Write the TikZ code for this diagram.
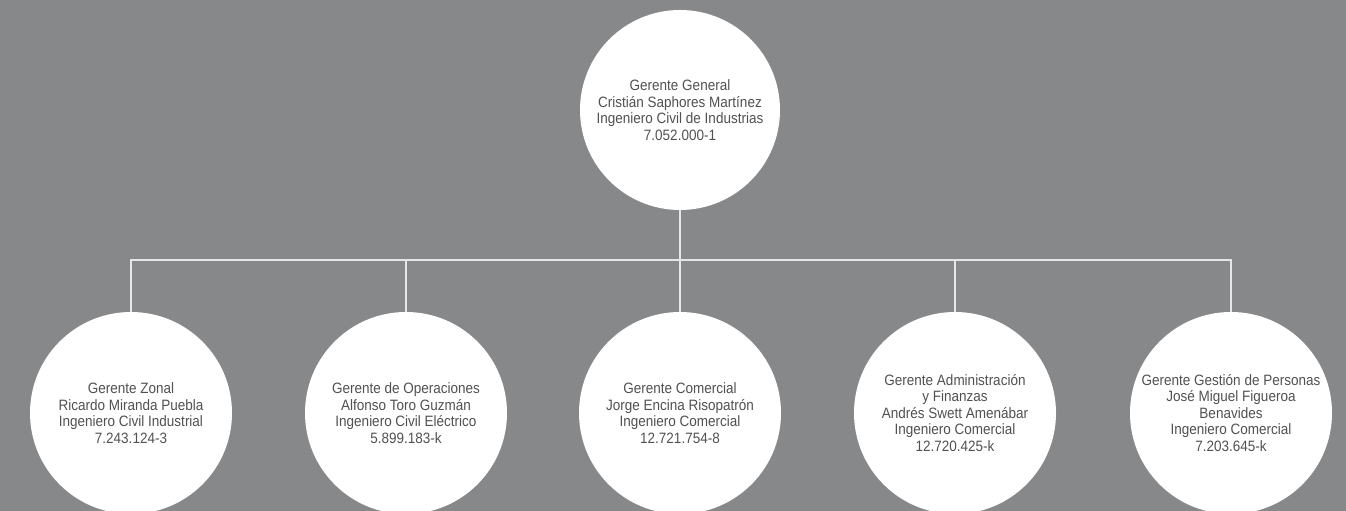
\documentclass[tikz,border=0pt]{standalone}
\usepackage{fontspec}
\setmainfont{Liberation Sans}[FakeStretch=0.9]
\definecolor{fondo}{HTML}{87888A}
\definecolor{texto}{HTML}{505153}
\definecolor{linea}{HTML}{E6E6E6}
\begin{document}
\begin{tikzpicture}[x=1pt,y=1pt,
  gerente/.style={circle,fill=white,inner sep=0pt,minimum size=202pt,align=center,
    text=texto,font=\fontsize{15}{16.5}\selectfont},
  rama/.style={color=linea,line width=1.2pt}]
\useasboundingbox (0,0) rectangle (1346,511);
\fill[fondo] (0,0) rectangle (1346,511);
%general
        \node[gerente,minimum size=200pt] (gg) at (680,401) {Gerente General\\Cristián Saphores Martínez\\Ingeniero Civil de Industrias\\7.052.000-1};
        \coordinate (bar) at (680,251);
%gerencias
        \node[gerente] (gz) at (131,98) {Gerente Zonal\\Ricardo Miranda Puebla\\Ingeniero Civil Industrial\\7.243.124-3};
        \node[gerente] (go) at (406,98) {Gerente de Operaciones\\Alfonso Toro Guzmán\\Ingeniero Civil Eléctrico\\5.899.183-k};
        \node[gerente] (gc) at (680,98) {Gerente Comercial\\Jorge Encina Risopatrón\\Ingeniero Comercial\\12.721.754-8};
        \node[gerente] (ga) at (955,98) {Gerente Administración\\y Finanzas\\Andrés Swett Amenábar\\Ingeniero Comercial\\12.720.425-k};
        \node[gerente] (gp) at (1231,98) {Gerente Gestión de Personas\\José Miguel Figueroa\\Benavides\\Ingeniero Comercial\\7.203.645-k};
%lineas
        \draw [rama] (gg.south) -- (bar);
        \foreach \g in {gz,go,gc,ga,gp}
          \draw [rama] (\g.north) |- (bar);
\end{tikzpicture}
\end{document}
